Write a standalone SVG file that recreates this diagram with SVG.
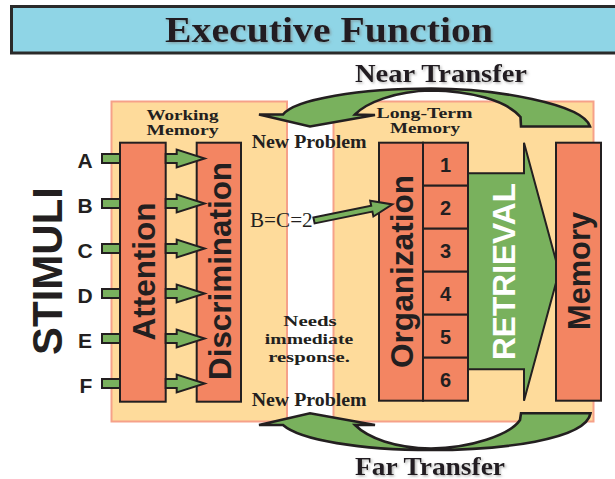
<svg xmlns="http://www.w3.org/2000/svg" width="615" height="479" viewBox="0 0 615 479">
  <style>
    .panel { fill: #fedb9b; stroke: #f6a189; stroke-width: 2; }
    .box { fill: #f38562; stroke: #231f20; stroke-width: 2; }
    .green { fill: #79b15d; stroke: #231f20; stroke-width: 2; stroke-linejoin: miter; }
    .bigarrow { fill: #79b15d; stroke: #231f20; stroke-width: 2.6; stroke-linejoin: miter; }
    .serif { font-family: "Liberation Serif", "Times New Roman", serif; font-weight: bold; fill: #231f20; }
    .sans { font-family: "Liberation Sans", Arial, sans-serif; font-weight: bold; fill: #231f20; }
    .label { font-size: 14px; text-anchor: middle; }
    .mid { font-size: 18px; }
    .note { font-size: 15px; text-anchor: middle; }
    .head { font-size: 25px; }
    .vert { font-size: 31px; text-anchor: middle; }
    .letter { font-size: 21px; text-anchor: middle; }
    .num { font-size: 20px; text-anchor: middle; }
  </style>
  <defs>
    <filter id="soft-shadow" x="-10%" y="-30%" width="120%" height="160%">
      <feDropShadow dx="1.5" dy="1.5" stdDeviation="0.8" flood-color="#7a7a7a" flood-opacity="0.55"/>
    </filter>
    <!-- short fat arrow between Attention and Discrimination -->
    <path id="step-arrow" d="M0,-4.5 H11 V-9 L39,0 L11,9 V4.5 H0 Z"/>
    <!-- input stub for each stimulus -->
    <rect id="stub" x="102" y="-4.5" width="18" height="9"/>
  </defs>

  <!-- title bar -->
  <g id="title">
    <rect x="11.5" y="6.5" width="610" height="46.5" fill="#8fd5e6" stroke="#2a2a2a" stroke-width="3"/>
    <text class="serif" x="165" y="41.5" font-size="35" textLength="328" lengthAdjust="spacingAndGlyphs" filter="url(#soft-shadow)">Executive Function</text>
  </g>

  <!-- background panels -->
  <g id="working-memory">
    <rect class="panel" x="111.5" y="101.5" width="175.5" height="320"/>
    <text class="serif label" x="182.5" y="119.5" textLength="72" lengthAdjust="spacingAndGlyphs">Working</text>
    <text class="serif label" x="182.5" y="135" textLength="72" lengthAdjust="spacingAndGlyphs">Memory</text>
  </g>
  <g id="long-term-memory">
    <rect class="panel" x="333.5" y="101.5" width="260" height="320"/>
    <text class="serif label" x="424.5" y="117.8" textLength="96" lengthAdjust="spacingAndGlyphs">Long-Term</text>
    <text class="serif label" x="425" y="133.3" textLength="70" lengthAdjust="spacingAndGlyphs">Memory</text>
  </g>

  <!-- stimuli -->
  <g id="stimuli">
    <text class="sans" font-size="42" text-anchor="middle" transform="translate(61.7,271) rotate(-90)" textLength="168" lengthAdjust="spacingAndGlyphs">STIMULI</text>
    <text class="sans letter" x="85" y="168">A</text>
    <text class="sans letter" x="85" y="213">B</text>
    <text class="sans letter" x="85" y="258">C</text>
    <text class="sans letter" x="85" y="303">D</text>
    <text class="sans letter" x="85" y="348">E</text>
    <text class="sans letter" x="86" y="393">F</text>
  </g>

  <g id="attention">
    <rect class="box" x="120" y="142.7" width="45.7" height="259"/>
    <text class="sans vert" transform="translate(154.5,271.5) rotate(-90)" textLength="138" lengthAdjust="spacingAndGlyphs">Attention</text>
  </g>
  <g id="discrimination">
    <rect class="box" x="196.7" y="142.7" width="44.3" height="259"/>
    <text class="sans vert" transform="translate(230.5,271) rotate(-90)" textLength="218" lengthAdjust="spacingAndGlyphs">Discrimination</text>
  </g>

  <g id="organization">
    <rect class="box" x="379" y="142.7" width="44" height="258"/>
    <text class="sans vert" transform="translate(412.5,271.5) rotate(-90)" textLength="193" lengthAdjust="spacingAndGlyphs">Organization</text>
  </g>
  <g id="categories">
    <rect class="box" x="423" y="142.7" width="45" height="43"/>
    <rect class="box" x="423" y="185.7" width="45" height="43"/>
    <rect class="box" x="423" y="228.7" width="45" height="43"/>
    <rect class="box" x="423" y="271.7" width="45" height="43"/>
    <rect class="box" x="423" y="314.7" width="45" height="43"/>
    <rect class="box" x="423" y="357.7" width="45" height="43"/>
    <text class="sans num" x="445.5" y="171.5">1</text>
    <text class="sans num" x="445.5" y="214.5">2</text>
    <text class="sans num" x="445.5" y="257.5">3</text>
    <text class="sans num" x="445.5" y="300.5">4</text>
    <text class="sans num" x="445.5" y="343.5">5</text>
    <text class="sans num" x="445.5" y="386.5">6</text>
  </g>

  <g id="retrieval">
    <polygon class="green" points="468,173.3 524,173.3 524,142.7 559,271.7 524,400.7 524,369.3 468,369.3"/>
    <text class="sans vert" style="fill:#ffffff" transform="translate(514.5,271.5) rotate(-90)" textLength="177" lengthAdjust="spacingAndGlyphs">RETRIEVAL</text>
  </g>

  <g id="memory">
    <rect class="box" x="556" y="142.7" width="45" height="258"/>
    <text class="sans vert" transform="translate(589.5,271) rotate(-90)" textLength="118" lengthAdjust="spacingAndGlyphs">Memory</text>
  </g>

  <!-- free-standing notes in the gap between the panels -->
  <g id="notes">
    <text class="serif mid" x="251.7" y="147.7" textLength="115" lengthAdjust="spacingAndGlyphs">New Problem</text>
    <text class="serif" x="250" y="226.7" style="font-weight:normal" font-size="20" textLength="62.7" lengthAdjust="spacingAndGlyphs">B=C=2</text>
    <text class="serif note" x="310" y="326" textLength="53.3" lengthAdjust="spacingAndGlyphs">Needs</text>
    <text class="serif note" x="309" y="343.8" textLength="88.3" lengthAdjust="spacingAndGlyphs">immediate</text>
    <text class="serif note" x="309" y="361.5" textLength="81.7" lengthAdjust="spacingAndGlyphs">response.</text>
    <text class="serif mid" x="251.7" y="405.7" textLength="115" lengthAdjust="spacingAndGlyphs">New Problem</text>
  </g>

  <!-- connectors -->
  <g id="connectors">
    <use href="#stub" class="green" y="158.5"/>
    <use href="#stub" class="green" y="203.5"/>
    <use href="#stub" class="green" y="248.5"/>
    <use href="#stub" class="green" y="293.5"/>
    <use href="#stub" class="green" y="338.5"/>
    <use href="#stub" class="green" y="383.5"/>

    <use href="#step-arrow" class="green" transform="translate(165.7,158.5)"/>
    <use href="#step-arrow" class="green" transform="translate(165.7,203.5)"/>
    <use href="#step-arrow" class="green" transform="translate(165.7,248.5)"/>
    <use href="#step-arrow" class="green" transform="translate(165.7,293.5)"/>
    <use href="#step-arrow" class="green" transform="translate(165.7,338.5)"/>
    <use href="#step-arrow" class="green" transform="translate(165.7,383.5)"/>

    <!-- B=C=2 into Organization -->
    <path class="green" transform="translate(314,220.5) rotate(-11.6)" d="M0,-3 H59 V-8 L80,0 L59,8 V3 H0 Z"/>

    <!-- near transfer: curved arrow over the top -->
    <path id="near-transfer" class="bigarrow" d="M259,114.5 L283,114.5 C295,99 360,88.5 431,88.5 C495,88.5 583,104 590,126.5 L521,126.5 L520.5,117 C506,100 470,91 431,90.5 C395,91 366,103 355,114.5 L375,115 L310,126.5 Z"/>
    <!-- far transfer: curved arrow underneath -->
    <path id="far-transfer" class="bigarrow" d="M259,425 L283,425 C300,440 360,450 431,450 C500,450 586,440 590.5,413.3 L521,413.3 L520,420 C510,435 470,448 431,448.5 C395,448 368,438 355,425 L375,425 L310,413.3 Z"/>
  </g>

  <g id="transfer-labels">
    <text class="serif head" x="355" y="81.7" textLength="172" lengthAdjust="spacingAndGlyphs" filter="url(#soft-shadow)">Near Transfer</text>
    <text class="serif head" x="355" y="475" textLength="150" lengthAdjust="spacingAndGlyphs" filter="url(#soft-shadow)">Far Transfer</text>
  </g>
</svg>
